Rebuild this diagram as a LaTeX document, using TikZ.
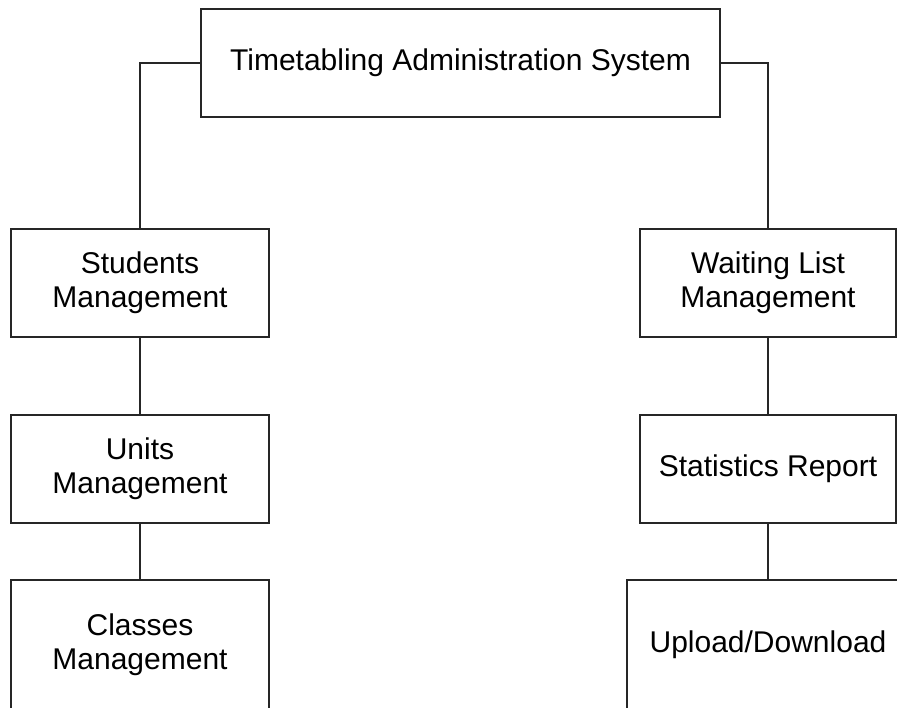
\documentclass[tikz,border=0pt]{standalone}
\usepackage{fontspec}
\setmainfont{Liberation Sans}
\usepackage{tikz}
\usetikzlibrary{positioning}
\tikzset{
  link/.style={line width=0.9pt, draw=black!85},
  sysbox/.style={draw=black!85, line width=0.9pt, fill=white, minimum width=259.5pt, minimum height=54pt, align=center},
  modbox/.style={draw=black!85, line width=0.9pt, fill=white, minimum width=129pt, minimum height=54pt, align=center},
  tallbox/.style={modbox, minimum height=65pt}
}

\begin{document}
\begin{tikzpicture}[x=0.5pt, y=-0.5pt, every node/.style={font=\fontsize{15pt}{17pt}\selectfont}]
  \useasboundingbox (0,0) rectangle (897,707);
  \clip (0,0) rectangle (897,707);
  \fill[white] (0,0) rectangle (897,707);
  \node[sysbox] (sys) at (460.5,63) {Timetabling Administration System};
  % left branch
  \node[modbox] (stud) at (140,283) {Students\\Management};
  \node[modbox] (units) at (140,469) {Units\\Management};
  \node[tallbox] (classes) at (140,645) {Classes\\Management};
  % right branch
  \node[modbox, minimum width=128pt] (wait) at (768,283) {Waiting List\\Management};
  \node[modbox, minimum width=128pt] (stats) at (768,469) {Statistics Report};
  \node[tallbox, minimum width=141pt] (upload) at (768,645) {Upload/Download};
  \draw[link] (sys.west) -| (stud.north);
  \draw[link] (sys.east) -| (wait.north);
  \draw[link] (stud) -- (units);
  \draw[link] (units) -- (classes);
  \draw[link] (wait) -- (stats);
  \draw[link] (stats) -- (upload);
\end{tikzpicture}
\end{document}
